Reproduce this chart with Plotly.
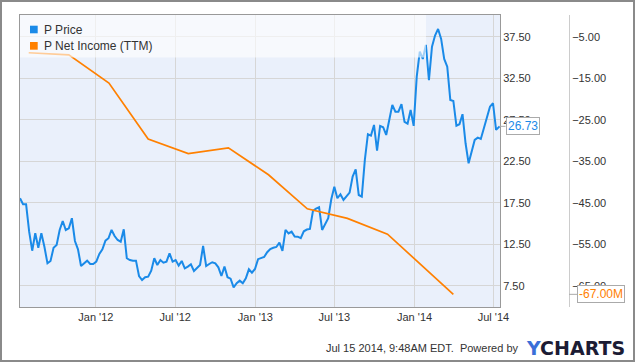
import pandas as pd
import plotly.graph_objects as go

# ---------------- data ----------------
price_values = [
    18.07, 17.34, 17.34, 14.04, 11.75, 13.85, 12.11, 13.85, 12.23, 10.23,
    10.51, 12.11, 12.44, 14.25, 15.33, 14.25, 14.45, 15.66, 12.92, 11.92,
    9.91, 10.23, 10.55, 10.15, 10.15, 10.43, 11.36, 11.92, 12.96, 13.25,
    14.25, 13.52, 13.04, 12.84, 14.33, 10.84, 10.63, 10.55, 10.55, 8.70,
    8.22, 8.55, 8.62, 9.34, 10.84, 10.03, 10.63, 10.31, 10.43, 11.44,
    10.43, 10.63, 9.95, 10.51, 9.63, 9.83, 10.11, 9.31, 9.63, 10.03,
    12.32, 9.91, 10.15, 10.36, 10.23, 9.75, 8.70, 9.83, 8.55, 8.38,
    7.34, 7.83, 8.14, 7.83, 8.43, 9.51, 9.10, 9.55, 10.73, 10.90,
    10.99, 11.57, 11.96, 12.11, 12.20, 12.72, 11.72, 14.25, 13.83, 14.04,
    13.46, 13.44, 13.26, 14.09, 14.30, 14.37, 16.54, 16.81, 16.98, 14.25,
    15.05, 15.66, 17.95, 19.46, 18.07, 18.55, 17.86, 18.34, 18.74, 20.67,
    21.56, 18.46, 18.26, 22.68, 25.78, 25.61, 26.90, 23.80, 26.78, 26.62,
    25.69, 27.50, 29.31, 28.50, 28.50, 29.40, 27.26, 27.05, 28.70, 26.78,
    32.72, 35.73, 34.85, 36.54, 32.28, 36.33, 37.66, 38.46, 37.26, 34.85,
    33.92, 29.91, 29.79, 26.81, 26.98, 28.19, 24.69, 22.28, 23.77, 25.09,
    25.37, 25.21, 26.50, 27.78, 29.10, 29.51, 26.30,
    26.73,
]
price_dates = list(pd.date_range("2011-07-11", periods=157, freq="7D")) + [pd.Timestamp("2014-07-15")]

income_dates = ["2011-07-31", "2011-10-31", "2012-01-31", "2012-04-30", "2012-07-31",
                "2012-10-31", "2013-01-31", "2013-04-30", "2013-07-31", "2013-10-31",
                "2014-03-31"]
income_values = [-8.8, -9.3, -16.1, -29.6, -33.1, -31.7, -38.2, -46.4, -48.7, -52.5, -67.0]  # millions

price_ticks = [7.5, 12.5, 17.5, 22.5, 27.5, 32.5, 37.5]
income_ticks = [-65, -55, -45, -35, -25, -15, -5]

series_names = ["P Price", "P Net Income (TTM)"]
last_price_label = "26.73"
last_income_label = "-67.00M"
credit_text = "Jul 15 2014, 9:48AM EDT.  Powered by"

# ---------------- style ----------------
BLUE = "#1a8ae8"
ORANGE = "#ff8000"
FONT = "Liberation Sans, Arial, sans-serif"
TXT = "#333333"

W, H = 635, 362
L, R, T, B = 20, 66, 15, 55
plot_w_px = 480
pw = W - L - R
dom = plot_w_px / pw

fig = go.Figure()
fig.add_trace(go.Scatter(x=price_dates, y=price_values, mode="lines",
                         line=dict(color=BLUE, width=2), name=series_names[0],
                         showlegend=False, yaxis="y"))
fig.add_trace(go.Scatter(x=income_dates, y=income_values, mode="lines",
                         line=dict(color=ORANGE, width=1.7), name=series_names[1],
                         showlegend=False, yaxis="y2"))

def py(pix):  # pixel y -> paper y
    return (H - B - pix) / (H - T - B)

def px(pix):  # pixel x -> paper x
    return (pix - L) / pw

shapes = [
    # legend translucent box
    dict(type="rect", xref="paper", yref="paper", x0=0, x1=px(426), y0=py(57.5), y1=1,
         fillcolor="rgba(255,255,255,0.6)", line=dict(width=0), layer="above"),
    # legend squares
    dict(type="rect", xref="paper", yref="paper", x0=px(30), x1=px(37.7), y0=py(33.3), y1=py(25.7),
         fillcolor=BLUE, line=dict(width=0), layer="above"),
    dict(type="rect", xref="paper", yref="paper", x0=px(30), x1=px(37.7), y0=py(49.7), y1=py(42),
         fillcolor=ORANGE, line=dict(width=0), layer="above"),
    # outer frame
    dict(type="rect", xref="paper", yref="paper", x0=px(1), x1=px(634), y0=py(361), y1=py(1),
         fillcolor="rgba(0,0,0,0)", line=dict(color="#8a8a8a", width=2), layer="above"),
]

annotations = [
    dict(xref="paper", yref="paper", x=px(42), y=py(29.5), xanchor="left", yanchor="middle",
         text=series_names[0], showarrow=False, font=dict(family=FONT, size=12, color=TXT)),
    dict(xref="paper", yref="paper", x=px(42), y=py(46), xanchor="left", yanchor="middle",
         text=series_names[1], showarrow=False, font=dict(family=FONT, size=12, color=TXT)),
    dict(x=price_dates[-1], y=price_values[-1], xref="x", yref="y", text=last_price_label,
         showarrow=True, arrowhead=0, arrowwidth=1, arrowcolor="#aaaaaa", ax=6, ay=0,
         xanchor="left", bgcolor="white", bordercolor="#aaaaaa", borderwidth=1, borderpad=1,
         font=dict(family=FONT, size=12, color=BLUE)),
    dict(x=1, y=income_values[-1], xref="paper", yref="y2", text=last_income_label,
         showarrow=True, arrowhead=0, arrowwidth=1, arrowcolor="#aaaaaa", ax=8, ay=0,
         xanchor="left", bgcolor="white", bordercolor="#aaaaaa", borderwidth=1, borderpad=1,
         font=dict(family=FONT, size=12, color=ORANGE)),
    dict(xref="paper", yref="paper", x=px(520), y=py(348), xanchor="right", yanchor="middle",
         text=credit_text, showarrow=False, font=dict(family=FONT, size=11, color=TXT)),
    dict(xref="paper", yref="paper", x=px(524), y=py(347.5), xanchor="left", yanchor="middle",
         text='<b><span style="color:#3a6fd8">Y</span>CHARTS</b>', showarrow=False,
         font=dict(family="DejaVu Sans, sans-serif", size=19, color="#1c1c34")),
]

fig.update_layout(
    width=W, height=H,
    margin=dict(l=L, r=R, t=T, b=B, pad=0),
    paper_bgcolor="white",
    plot_bgcolor="#eaf0fb",
    font=dict(family=FONT, size=11, color=TXT),
    showlegend=False,
    xaxis=dict(domain=[0, dom], type="date", range=["2011-07-11", "2014-07-16"],
               tick0="2012-01-01", dtick="M6", tickformat="%b '%y",
               showgrid=True, gridcolor="#d6d6d6", gridwidth=1,
               showline=True, linecolor="#999999", linewidth=1, mirror=True,
               ticks="", zeroline=False, tickfont=dict(size=11, color=TXT)),
    yaxis=dict(side="right", anchor="x", range=[4.97, 40.14], tickvals=price_ticks,
               tickformat=".2f", showgrid=True, gridcolor="#d6d6d6", gridwidth=1,
               showline=True, linecolor="#999999", linewidth=1, mirror=True,
               ticks="", zeroline=False, tickfont=dict(size=11, color=TXT)),
    yaxis2=dict(overlaying="y", side="right", anchor="free", position=1,
                range=[-70.05, 0.29], tickvals=income_ticks, tickformat=".2f", ticksuffix="M",
                showgrid=False, showline=True, linecolor="#cccccc", linewidth=1,
                ticks="", zeroline=False, tickfont=dict(size=11, color=TXT)),
    shapes=shapes,
    annotations=annotations,
)

fig.write_html("out.html")
